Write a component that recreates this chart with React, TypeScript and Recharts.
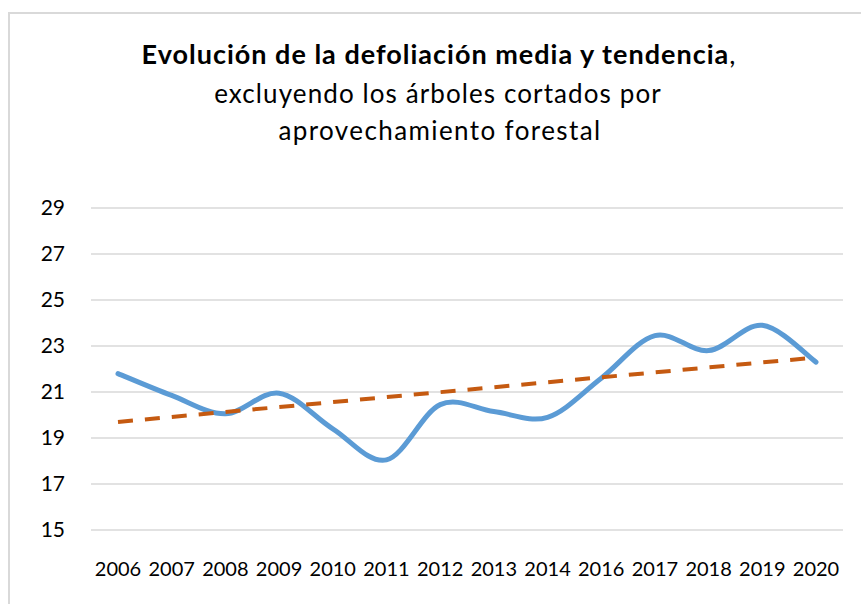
import { LineChart, Line, XAxis, YAxis, CartesianGrid } from "recharts";

const years = ["2006", "2007", "2008", "2009", "2010", "2011", "2012", "2013", "2014", "2016", "2017", "2018", "2019", "2020"];
const defoliation = [21.8, 20.85, 20.05, 20.95, 19.4, 18.05, 20.45, 20.15, 19.9, 21.6, 23.45, 22.8, 23.9, 22.3];
const trend = [19.7, null, null, null, null, null, null, null, null, null, null, null, null, 22.5];
const yTicks = [15, 17, 19, 21, 23, 25, 27, 29];

const data = years.map((year, i) => ({ year, media: defoliation[i], tendencia: trend[i] }));

// Excel-style smoothed line (Catmull-Rom through every point)
const smoothCurve = (context: any) => {
  let pts: number[][] = [];
  return {
    areaStart() {},
    areaEnd() {},
    lineStart() {
      pts = [];
    },
    point(x: number, y: number) {
      pts.push([+x, +y]);
    },
    lineEnd() {
      if (!pts.length) return;
      context.moveTo(pts[0][0], pts[0][1]);
      for (let i = 0; i < pts.length - 1; i++) {
        const p0 = pts[i - 1] || pts[i];
        const p1 = pts[i];
        const p2 = pts[i + 1];
        const p3 = pts[i + 2] || p2;
        context.bezierCurveTo(
          p1[0] + (p2[0] - p0[0]) / 6,
          p1[1] + (p2[1] - p0[1]) / 6,
          p2[0] - (p3[0] - p1[0]) / 6,
          p2[1] - (p3[1] - p1[1]) / 6,
          p2[0],
          p2[1]
        );
      }
    },
  };
};

const font = "Lato, 'Open Sans', sans-serif";

export default function App() {
  return (
    <div style={{ position: "fixed", left: 0, top: 0, width: 861, height: 604, background: "#fff", overflow: "hidden", fontFamily: font }}>
      <div style={{ position: "absolute", left: 8, top: 12, width: 900, height: 700, border: "2px solid #d9d9d9" }} />
      <svg width={861} height={160} style={{ position: "absolute", left: 0, top: 0 }}>
        <text x={439} y={64} textAnchor="middle" fontFamily={font} fontSize={27} letterSpacing={1} fill="#000">
          <tspan fontWeight="bold">Evolución de la defoliación media y tendencia</tspan>
          <tspan>,</tspan>
        </text>
        <text x={438} y={103} textAnchor="middle" fontFamily={font} fontSize={26} letterSpacing={1.1} fill="#000">
          excluyendo los árboles cortados por
        </text>
        <text x={440} y={140} textAnchor="middle" fontFamily={font} fontSize={26} letterSpacing={1.4} fill="#000">
          aprovechamiento forestal
        </text>
      </svg>
      <div style={{ position: "absolute", left: 0, top: 0 }}>
        <LineChart width={861} height={604} data={data} margin={{ top: 208, right: 18, bottom: 0, left: 0 }}>
          <CartesianGrid vertical={false} stroke="#d9d9d9" strokeWidth={1.5} />
          <XAxis
            dataKey="year"
            axisLine={false}
            tickLine={false}
            tickSize={0}
            tickMargin={32}
            height={74}
            interval={0}
            padding={{ left: 27, right: 27 }}
            tick={{ fill: "#000", fontSize: 20, fontFamily: font }}
          />
          <YAxis
            domain={[15, 29]}
            ticks={yTicks}
            width={91}
            axisLine={false}
            tickLine={false}
            tickSize={0}
            tickMargin={26}
            tick={{ fill: "#000", fontSize: 21, fontFamily: font }}
          />
          <Line
            dataKey="media"
            type={smoothCurve as any}
            stroke="#5b9bd5"
            strokeWidth={5}
            strokeLinecap="round"
            dot={false}
            isAnimationActive={false}
          />
          <Line
            dataKey="tendencia"
            type="linear"
            connectNulls
            stroke="#c55a11"
            strokeWidth={4}
            strokeDasharray="15 12"
            dot={false}
            isAnimationActive={false}
          />
        </LineChart>
      </div>
    </div>
  );
}
